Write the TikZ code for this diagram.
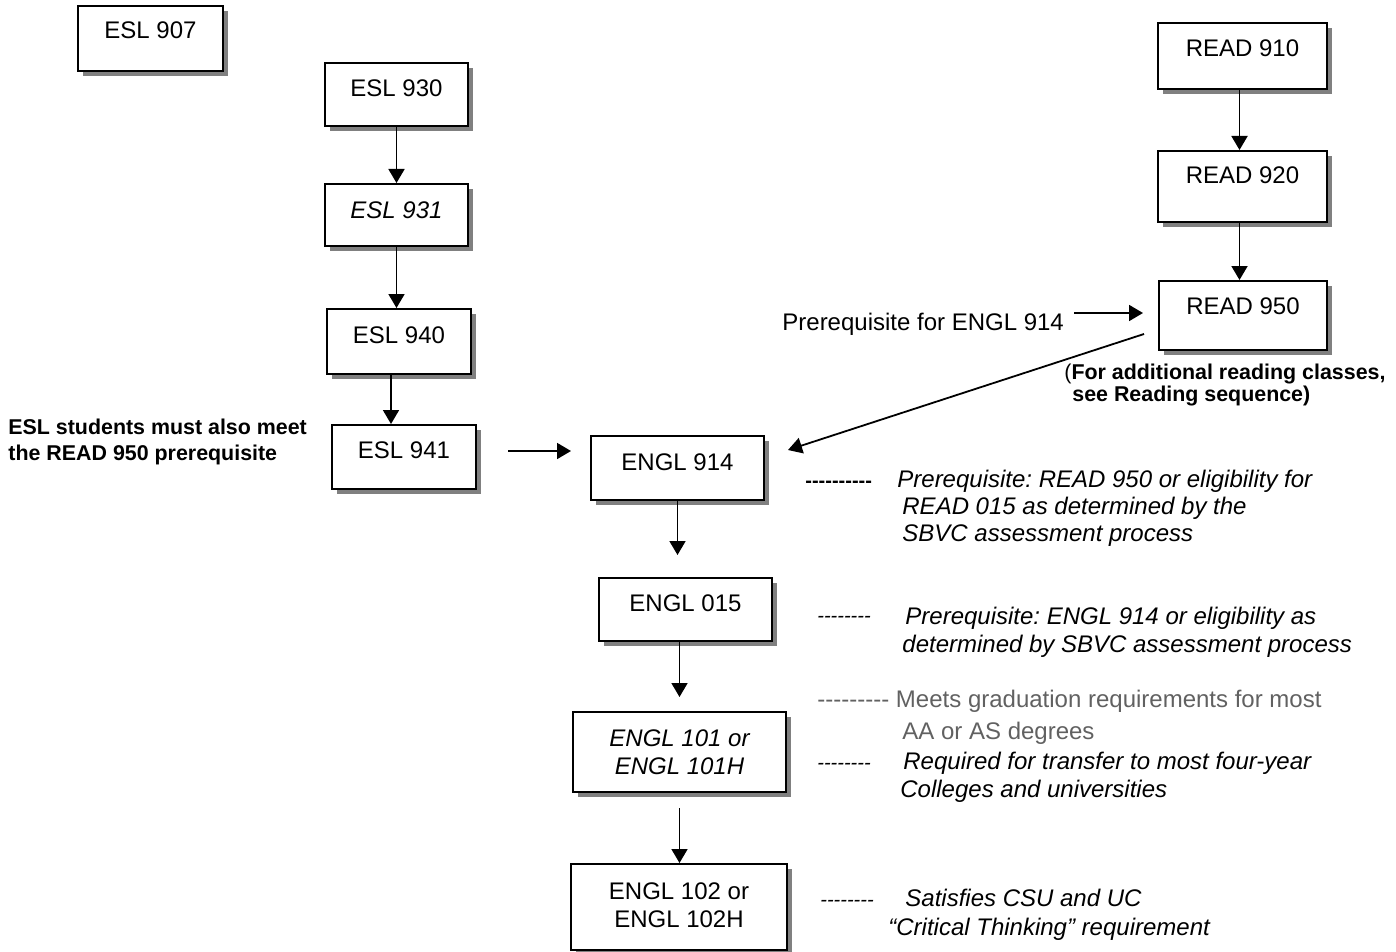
\documentclass[tikz,border=0pt]{standalone}
\usepackage{fontspec}
\newfontfamily\arial{Liberation Sans}
\usetikzlibrary{arrows.meta,shadows,fit}
\frenchspacing
\begin{document}
\begin{tikzpicture}[x=0.5pt,y=-0.5pt,
  box/.style={draw=black, line width=1pt, fill=white, inner sep=0pt,
    drop shadow={shadow xshift=2.5pt, shadow yshift=-2.5pt, opacity=1, fill=black!50}},
  lbl/.style={font=\arial\fontsize{12}{14}\selectfont, inner sep=0pt},
  ilbl/.style={font=\arial\itshape\fontsize{12}{14}\selectfont, inner sep=0pt},
  blbl/.style={font=\arial\bfseries\fontsize{10.7}{13}\selectfont, inner sep=0pt},
  note/.style={font=\arial\itshape\fontsize{12}{14}\selectfont, inner sep=0pt, anchor=base west},
  gnote/.style={font=\arial\fontsize{12}{14}\selectfont, inner sep=0pt, anchor=base west, text=black!62},
  dsh/.style={font=\arial\itshape\fontsize{10}{12}\selectfont, inner sep=0pt, anchor=base west},
  bdsh/.style={font=\arial\bfseries\fontsize{10}{12}\selectfont, inner sep=0pt, anchor=base west},
  arr/.style={line width=0.9pt, -{Triangle[length=7pt,width=8pt]}}
]
\useasboundingbox (0,0) rectangle (1396,952);

% boxes
\node[box, fit={(78,6) (223,71)}] (esl907) {};
\node[box, fit={(325,63) (468,126)}] (esl930) {};
\node[box, fit={(325,184) (468,246)}] (esl931) {};
\node[box, fit={(327,309) (471,374)}] (esl940) {};
\node[box, fit={(332,425) (476,489)}] (esl941) {};
\node[box, fit={(1158,23) (1327,89)}] (read910) {};
\node[box, fit={(1158,151) (1327,222)}] (read920) {};
\node[box, fit={(1159,281) (1327,350)}] (read950) {};
\node[box, fit={(591,436) (764,500)}] (engl914) {};
\node[box, fit={(599,578) (772,641)}] (engl015) {};
\node[box, fit={(573,712) (786,792)}] (engl101) {};
\node[box, fit={(571,864) (787,950)}] (engl102) {};

% box texts
\node[lbl] (t907) at (150.5,30) {ESL 907};
\node[lbl] (t930) at (396.5,88) {ESL 930};
\node[ilbl] (t931) at (396.5,210) {ESL 931};
\node[lbl] (t940) at (399,335) {ESL 940};
\node[lbl] (t941) at (404,450) {ESL 941};
\node[lbl] (t910) at (1242.5,48) {READ 910};
\node[lbl] (t920) at (1242.5,175) {READ 920};
\node[lbl] (t950) at (1243,306) {READ 950};
\node[lbl] (t914) at (677.5,462) {ENGL 914};
\node[lbl] (t015) at (685.5,603) {ENGL 015};
\node[ilbl, align=center] (t101) at (679.5,752.5) {ENGL 101 or\\ENGL 101H};
\node[lbl, align=center] (t102) at (679,905.5) {ENGL 102 or\\ENGL 102H};

% vertical arrows
\draw[arr] (esl930.south) -- (esl930.south |- esl931.north);
\draw[arr] (esl931.south) -- (esl931.south |- esl940.north);
\draw[arr] ([xshift=-4pt]esl940.south) -- ([xshift=-4pt]esl940.south |- esl941.north);
\draw[arr] ([xshift=-1.5pt]read910.south) -- ([xshift=-1.5pt]read910.south |- read920.north);
\draw[arr] ([xshift=-1.5pt]read920.south) -- ([xshift=-1.5pt]read920.south |- read950.north);
\draw[arr] (engl914.south) -- ([yshift=11pt]engl914.south |- engl015.north);
\draw[arr] (engl101.north |- engl015.south) -- ([yshift=7pt]engl101.north);
\draw[arr] ([yshift=-7.5pt]engl101.south) -- (engl101.south |- engl102.north);

% horizontal / diagonal arrows
\draw[arr] ([xshift=15.5pt,yshift=3pt]esl941.east) -- ([xshift=-9.5pt,yshift=8.5pt]engl914.west);
\node[lbl, anchor=base west] (prq) at (782,330) {Prerequisite for ENGL 914};
\draw[arr] ([xshift=5pt,yshift=8.5pt]prq.base east) -- ([xshift=-7.5pt,yshift=8.5pt]prq.base east -| read950.west);
\draw[arr] ([xshift=-7pt,yshift=-9.25pt]read950.west) -- ([xshift=11.5pt,yshift=9pt]engl914.east);

% reading note
\node[blbl, anchor=base west] (rn1) at (1064,379) {\mdseries(\bfseries For additional reading classes,};
\node[blbl, anchor=base west] (rn2) at (1072,401) {see Reading sequence)};

% ESL note
\node[blbl, anchor=base west] (en1) at (8,434) {ESL students must also meet};
\node[blbl, anchor=base west] (en2) at (8,460) {the READ 950 prerequisite};

% annotations
\node[bdsh] (d1) at (805,487) {----------};
\node[note] (a11) at (897,487) {Prerequisite: READ 950 or eligibility for};
\node[note] (a12) at (902,514) {READ 015 as determined by the};
\node[note] (a13) at (902,541) {SBVC assessment process};

\node[dsh] (d2) at (817,622) {--------};
\node[note] (a21) at (905,624) {Prerequisite: ENGL 914 or eligibility as};
\node[note] (a22) at (902,652) {determined by SBVC assessment process};

\node[gnote] (a31) at (817,707) {--------- Meets graduation requirements for most};
\node[gnote] (a32) at (902,739) {AA or AS degrees};

\node[dsh] (d4) at (817,769) {--------};
\node[note] (a41) at (903,769) {Required for transfer to most four-year};
\node[note] (a42) at (900,797) {Colleges and universities};

\node[dsh] (d5) at (820,906) {--------};
\node[note] (a51) at (905,906) {Satisfies CSU and UC};
\node[note] (a52) at (888,935) {“Critical Thinking” requirement};
\end{tikzpicture}
\end{document}
